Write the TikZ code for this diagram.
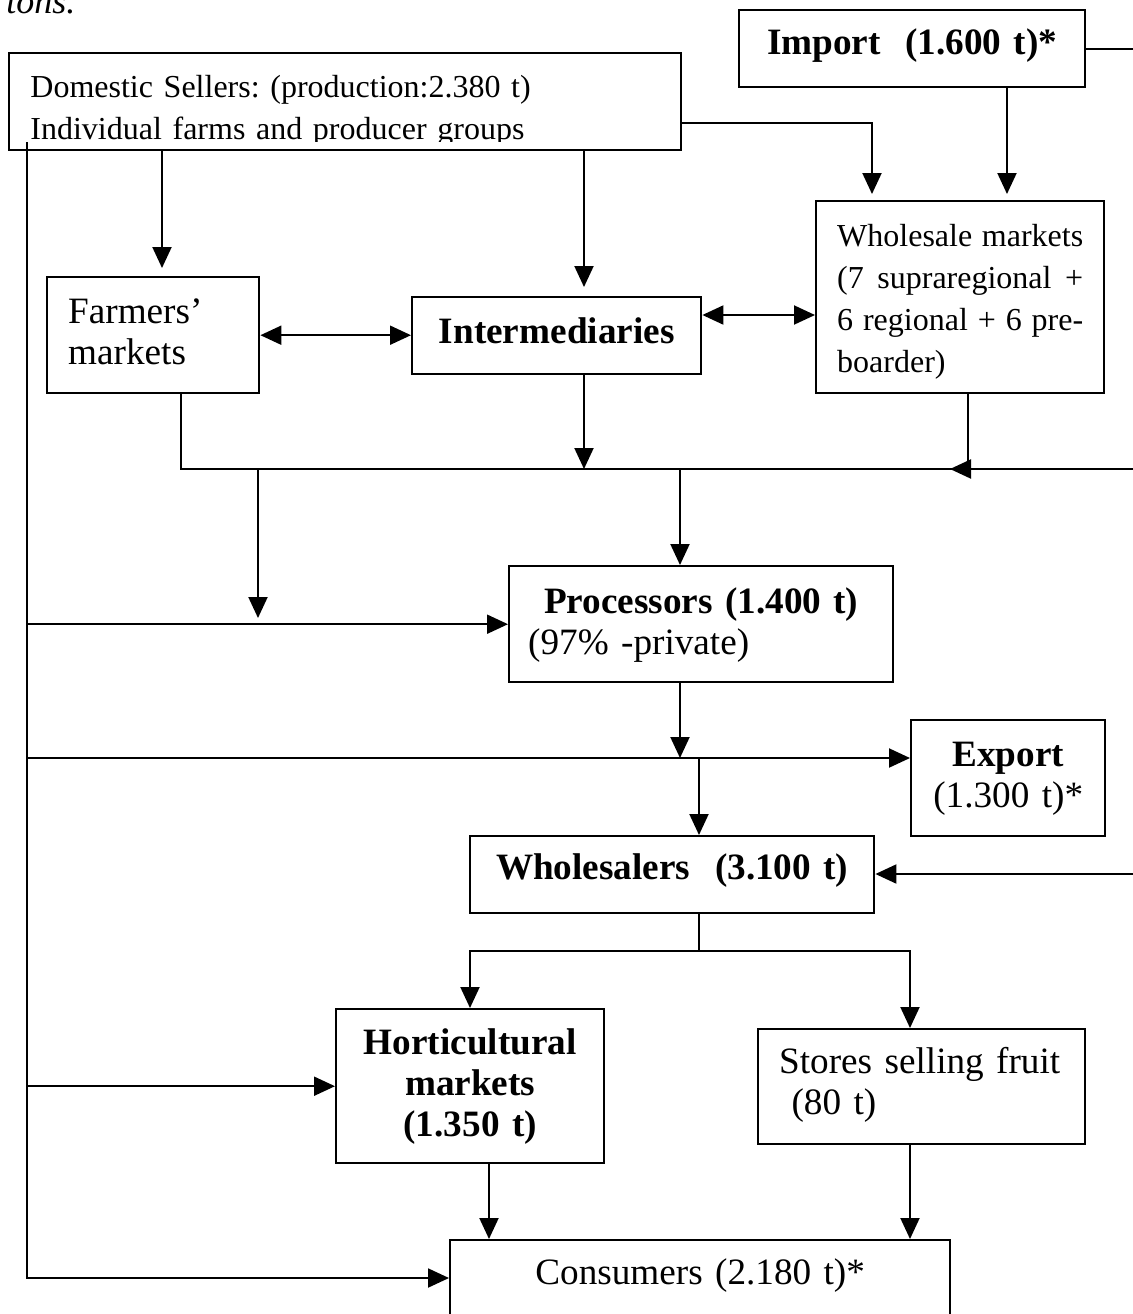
\documentclass[tikz,border=0pt]{standalone}
\usepackage{fontspec}
\setmainfont{Liberation Serif}
\usetikzlibrary{arrows.meta}
\newcommand{\boxfont}{\fontsize{18.6}{20.5}\selectfont}
\newcommand{\smallboxfont}{\fontsize{16}{21}\selectfont}
\frenchspacing
\begin{document}
\begin{tikzpicture}[x=0.5pt,y=-0.5pt,every node/.style={font=\boxfont}]
      \tikzstyle{bx} =[draw,line width=1.2pt,anchor=north west,
                       inner ysep=0pt,inner xsep=5pt];
      \tikzstyle{ln} =[line width=1pt];
      \tikzstyle{arr}=[ln,-{Triangle[length=10.5pt,width=9.5pt]}];
      \tikzstyle{dbl}=[ln,{Triangle[length=10.5pt,width=9.5pt]}-{Triangle[length=10.5pt,width=9.5pt]}];
      \useasboundingbox (0,0) rectangle (1133,1314);
      \node[anchor=base west,inner sep=0pt,font=\fontsize{18}{20}\selectfont\itshape] (cap) at (6,13) {tons.};
      \node[bx,inner sep=0pt,minimum width=336pt,minimum height=48.5pt] (dom) at (8,52) {};
      \begin{scope}
        \clip (8,52) rectangle (680,141);
        \node[anchor=north west,inner sep=0pt,text width=320pt,text height=22.5pt,text depth=26pt,
              font=\smallboxfont,align=left] (domtxt) at (30,52)
              {Domestic Sellers: (production:2.380 t)\\Individual farms and producer groups};
      \end{scope}
      \node[bx,font=\boxfont\bfseries,text width=163pt,text height=22pt,text depth=16.5pt,align=center] (imp) at (738,9) {Import~ (1.600 t)*};
      \node[bx,font=\smallboxfont,inner xsep=10.5pt,text width=123pt,text height=22.5pt,text depth=73.5pt,align=justify] (wm) at (815,200)
            {Wholesale markets\linebreak (7 supraregional +\linebreak 6 regional + 6 pre-\linebreak boarder)};
      \node[bx,inner xsep=10.5pt,text width=85pt,text height=23pt,text depth=35pt,align=left] (farm) at (46,276) {Farmers’\\markets};
      \node[bx,font=\boxfont\bfseries,text width=134.5pt,text height=23pt,text depth=15.5pt,align=center] (inter) at (411,296) {Intermediaries};
      \node[bx,inner xsep=9.5pt,text width=173pt,text height=23.5pt,text depth=34.5pt,align=left] (proc) at (508,565)
            {\makebox[173pt]{\bfseries Processors (1.400 t)}\\(97\% -private)};
      \node[bx,text width=87pt,text height=23pt,text depth=35pt,align=center] (exp) at (910,719) {\textbf{Export}\\(1.300 t)*};
      \node[bx,font=\boxfont\bfseries,text width=192pt,text height=21.5pt,text depth=17pt,align=center] (whs) at (469,835) {Wholesalers~ (3.100 t)};
      \node[bx,font=\boxfont\bfseries,text width=124pt,text height=22.5pt,text depth=54.5pt,align=center] (hort) at (335,1008) {Horticultural\\markets\\(1.350 t)};
      \node[bx,inner xsep=10.5pt,text width=142.5pt,text height=22pt,text depth=35.5pt,align=left] (store) at (757,1028) {Stores selling fruit\\~(80 t)};
      \node[bx,text width=240pt,text height=22pt,text depth=28.5pt,align=center] (cons) at (449,1239) {Consumers (2.180 t)*};
      \coordinate (trunk) at (27,142);
      \coordinate (trunkend) at (27,1278);
      \coordinate (fcol) at (162,0);
      \coordinate (icol) at (584,0);
      \coordinate (dw) at (872,123);
      \coordinate (iwcol) at (1007,0);
      \coordinate (impout) at (1140,0);
      \coordinate (iw) at (0,315);
      \coordinate (jl) at (181,469);
      \coordinate (jr) at (968,469);
      \coordinate (jin) at (1140,469);
      \coordinate (jtip) at (950,469);
      \coordinate (drop) at (258,618);
      \coordinate (pcol) at (680,0);
      \coordinate (expy) at (27,758);
      \coordinate (wcol) at (699,0);
      \coordinate (win) at (1140,874);
      \coordinate (sp) at (699,951);
      \coordinate (hcol) at (470,951);
      \coordinate (scol) at (910,951);
      \coordinate (hc) at (489,0);
      \draw[arr] (trunk) -- (trunkend) -- (trunkend -| cons.west);
      \draw[arr,shorten >=4pt] (dom.south -| fcol) -- (farm.north -| fcol);
      \draw[arr,shorten >=4.5pt] (dom.south -| icol) -- (inter.north -| icol);
      \draw[arr,shorten >=3pt] (dom.east |- dw) -- (dw) -- (wm.north -| dw);
      \draw[arr,shorten >=3pt] (imp.south -| iwcol) -- (wm.north -| iwcol);
      \draw[ln] (imp.east) -- (imp.east -| impout);
      \draw[dbl] (farm.east) -- (farm.east -| inter.west);
      \draw[dbl] (inter.east |- iw) -- (wm.west |- iw);
      \draw[ln] (farm.south -| jl) -- (jl) -- (jr) -- (wm.south -| jr);
      \draw[arr] (inter.south -| icol) -- (icol |- jl);
      \draw[arr] (jin) -- (jtip);
      \draw[arr] (drop |- jl) -- (drop);
      \draw[arr] (pcol |- jl) -- (proc.north -| pcol);
      \draw[arr] (trunk |- proc.west) -- (proc.west);
      \draw[arr] (proc.south -| pcol) -- (pcol |- expy);
      \draw[arr] (expy) -- (expy -| exp.west);
      \draw[arr] (wcol |- expy) -- (whs.north -| wcol);
      \draw[arr] (win) -- (win -| whs.east);
      \draw[ln] (whs.south -| sp) -- (sp);
      \draw[arr] (sp) -- (hcol) -- (hort.north -| hcol);
      \draw[arr] (sp) -- (scol) -- (store.north -| scol);
      \draw[arr] (trunk |- hort.west) -- (hort.west);
      \draw[arr] (hort.south -| hc) -- (cons.north -| hc);
      \draw[arr] (store.south -| scol) -- (cons.north -| scol);
    \end{tikzpicture}
\end{document}
